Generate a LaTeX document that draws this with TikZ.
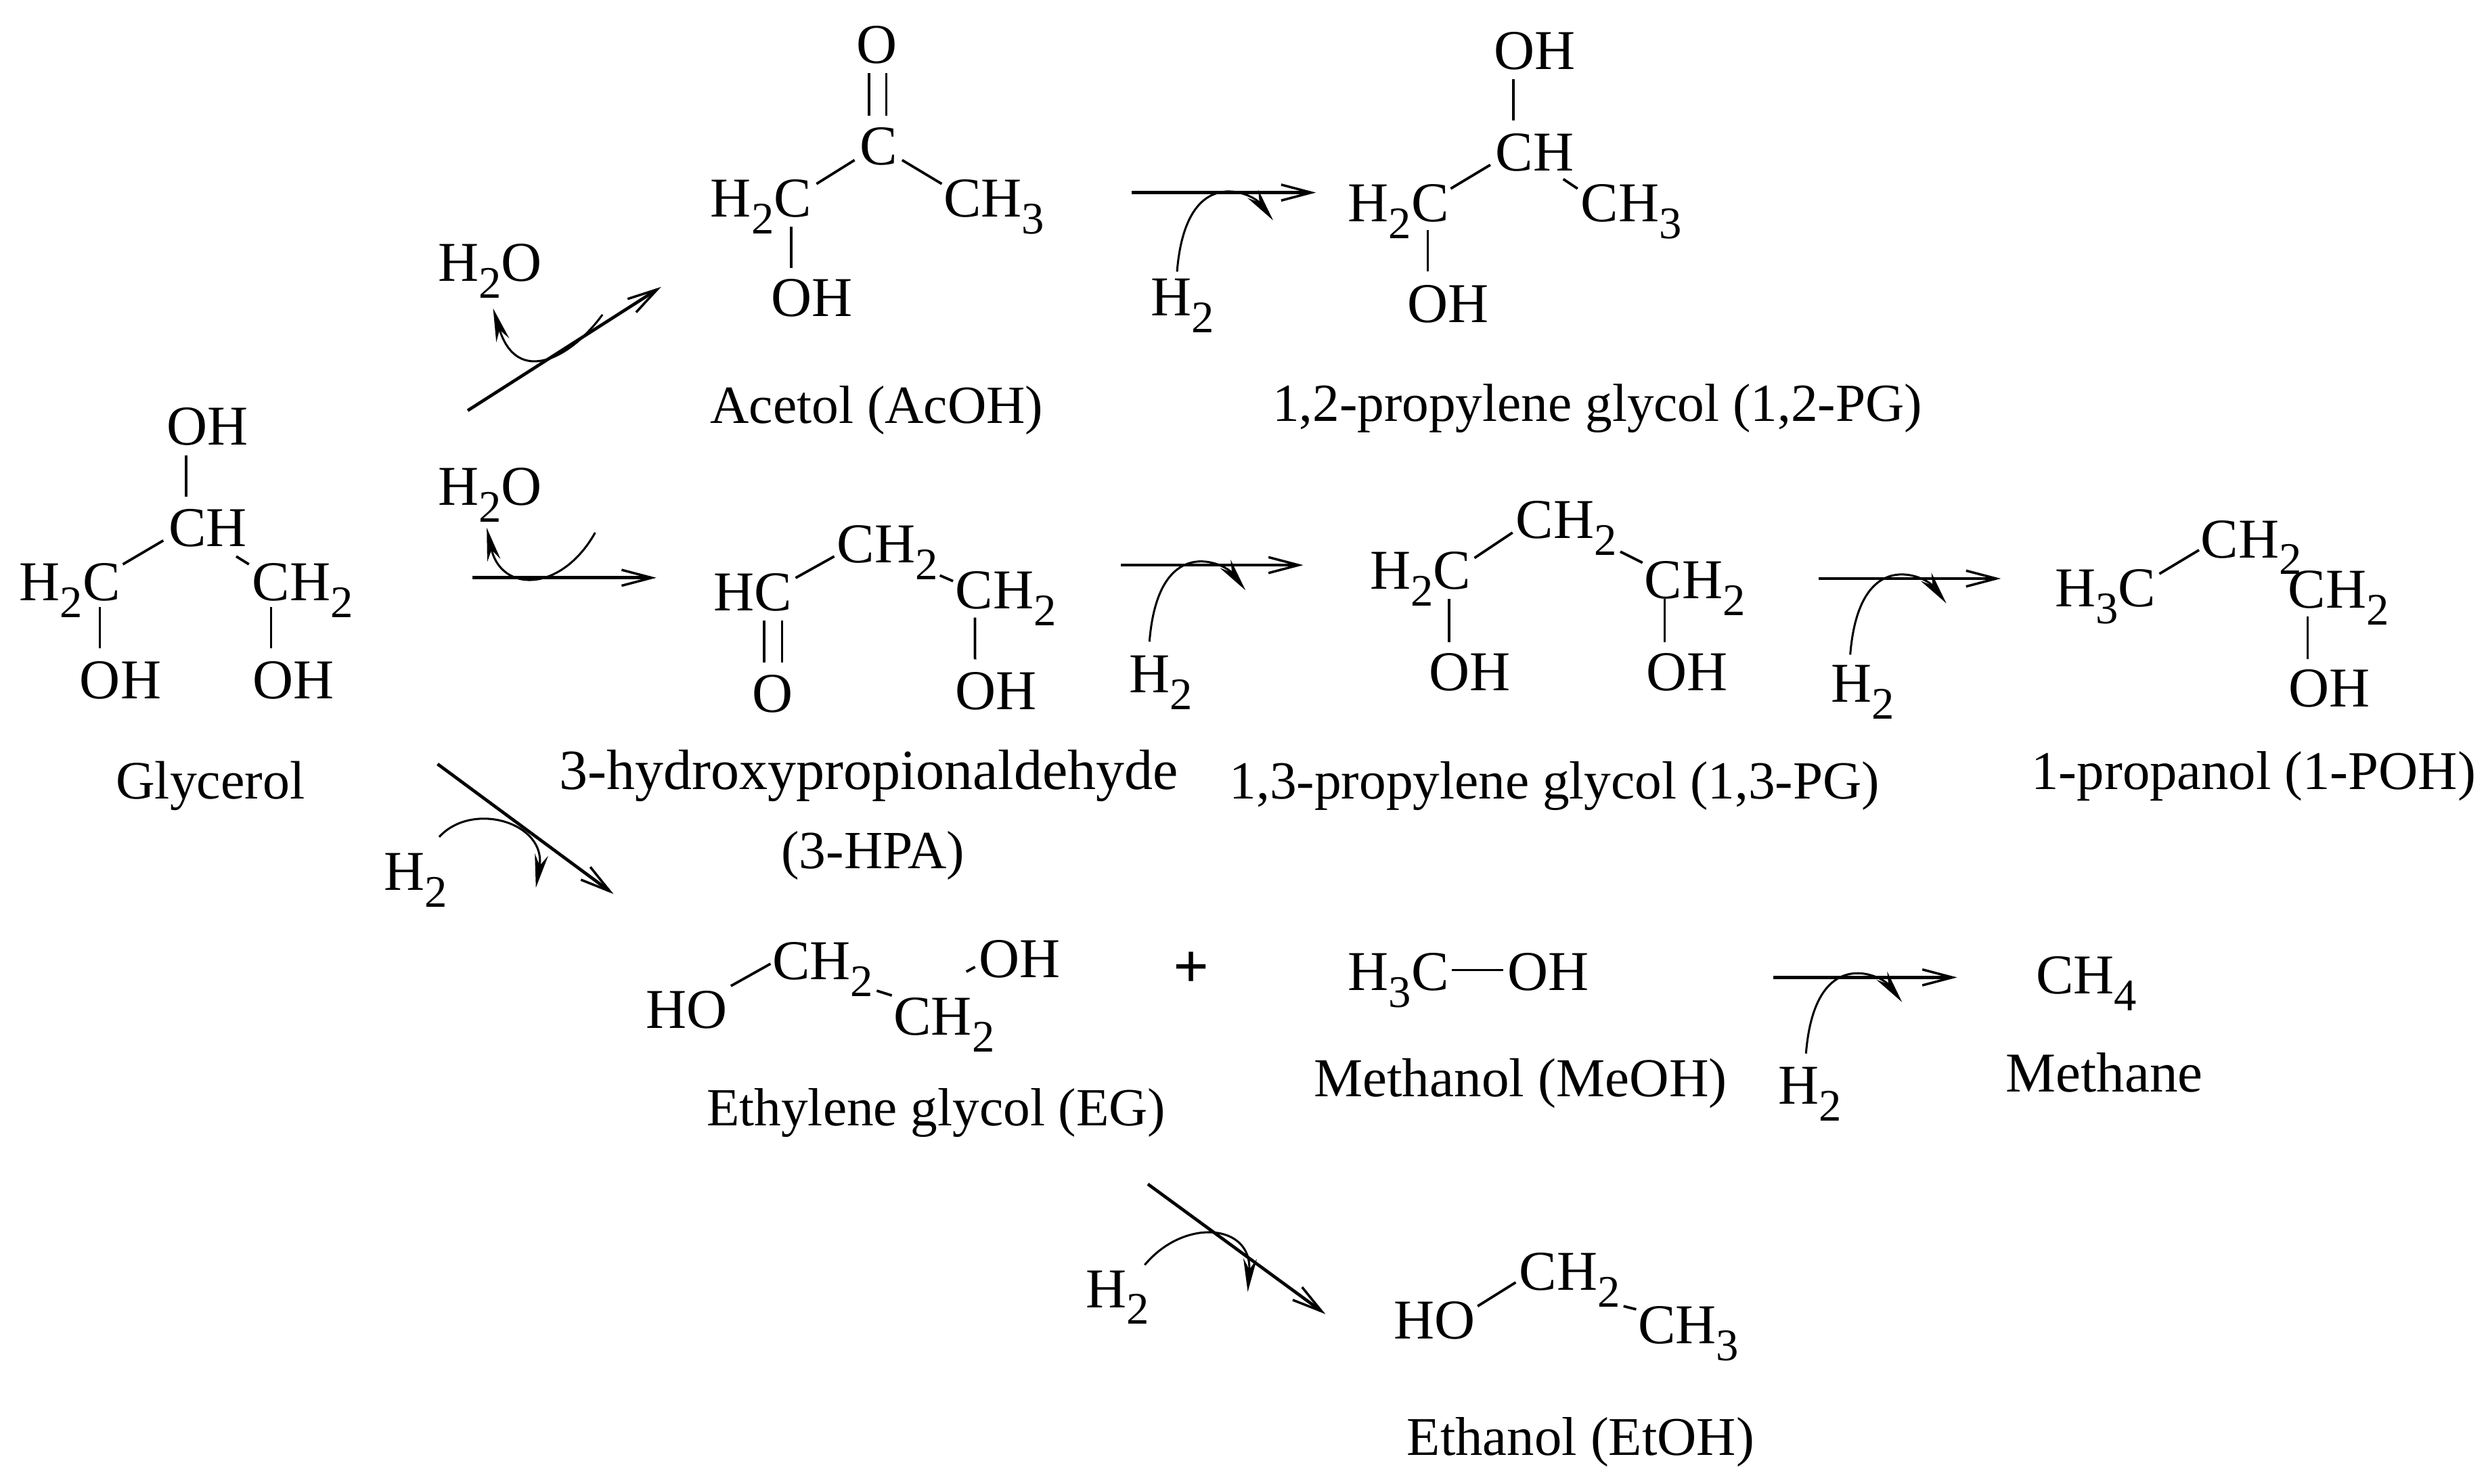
\documentclass[tikz,border=0pt]{standalone}
\usepackage{fontspec}
\setmainfont{Liberation Serif}
\usetikzlibrary{arrows.meta}
\newcommand{\ssb}[1]{\raisebox{-.3em}{\fontsize{8.1}{8.1}\selectfont #1}}
\newcommand{\bd}[4]{\draw[bond] ([shift={(#2)}]#1.center) -- ([shift={(#4)}]#3.center);}
\newcommand{\hcurve}[3]{\draw[crv] ([shift={(-3.6+#2,-16+#3)}]#1.center) .. controls ([shift={(2+#2,-85.4+#3)}]#1.center) and ([shift={(44+#2,-65.4+#3)}]#1.center) .. ([shift={(57+#2,-48.4+#3)}]#1.center);}
\tikzset{
  chem/.style={inner sep=0pt,text height=6.7pt,text depth=0pt,font=\fontsize{10.1}{12}\selectfont,text=black},
  lbl/.style={inner sep=0pt,text height=6.8pt,text depth=0pt,font=\fontsize{#1}{12}\selectfont,text=black},
  lbl/.default=9.8,
  bond/.style={line width=0.16mm,black},
  arr/.style={line width=0.2mm,black,-{Straight Barb[length=1.9mm,width=1mm,line width=0.15mm]}},
  crv/.style={line width=0.13mm,black,-{Stealth[length=2.1mm,width=0.85mm]}},
}
\begin{document}
\begin{tikzpicture}[x=0.1mm,y=-0.1mm]
\useasboundingbox (0,0) rectangle (1568,936.16);
% Glycerol
\node[chem] (gOH) at (131,269) {OH};
\node[chem] (gCH) at (131,333) {CH};
\node[chem] (gL) at (44,367) {H\ssb{2}C};
\node[chem] (gR) at (191,367) {CH\ssb{2}};
\node[chem] (gLO) at (76,429) {OH};
\node[chem] (gRO) at (185,429) {OH};
\node[lbl=9.7] (gName) at (132.7,492) {Glycerol};
\bd{gOH}{-13.5,18.5}{gCH}{-13.5,-19.5}
\bd{gCH}{-28,8}{gL}{33.5,-11}
\bd{gCH}{18,18}{gR}{-34,-11}
\bd{gL}{19,16}{gLO}{-13,-20}
\bd{gR}{-20,16}{gRO}{-14,-20}
% Acetol
\node[chem] (aO) at (553,28) {O};
\node[chem] (aC) at (554,92) {C};
\node[chem] (aL) at (480,125) {H\ssb{2}C};
\node[chem] (aR) at (627,125) {CH\ssb{3}};
\node[chem] (aOH) at (512,188) {OH};
\node[lbl=9.65] (aName) at (553,255) {Acetol (AcOH)};
\bd{aO}{-5,18}{aC}{-6,-19}
\bd{aO}{6,18}{aC}{5,-19}
\bd{aC}{-15,9}{aL}{35,-9}
\bd{aC}{15,9}{aR}{-33,-9}
\bd{aL}{19,18}{aOH}{-13,-19}
% 1,2-PG
\node[chem] (bOH) at (968,32) {OH};
\node[chem] (bCH) at (968,96) {CH};
\node[chem] (bL) at (882,128) {H\ssb{2}C};
\node[chem] (bR) at (1029,128) {CH\ssb{3}};
\node[chem] (bO) at (913.5,191.5) {OH};
\node[lbl=9.63] (bName) at (1007.5,254) {1,2-propylene glycol (1,2-PG)};
\bd{bOH}{-13.5,18}{bCH}{-13.5,-20}
\bd{bCH}{-28,8}{bL}{33,-9}
\bd{bCH}{18,17}{bR}{-34,-9}
\bd{bL}{18.5,17}{bO}{-13,-20.5}
% 3-HPA
\node[chem] (cHC) at (474.8,373.6) {HC};
\node[chem] (cO) at (487.4,437.5) {O};
\node[chem] (cM) at (559.8,343.4) {CH\ssb{2}};
\node[chem] (cR) at (634.4,372.2) {CH\ssb{2}};
\node[chem] (cOH) at (628,435.8) {OH};
\node[lbl=10.2] (cName) at (548,486) {3-hydroxypropionaldehyde};
\node[lbl=9.65] (cName2) at (550.6,536) {(3-HPA)};
\bd{cHC}{7.3,18}{cO}{-5.3,-19.5}
\bd{cHC}{18.5,18}{cO}{5.9,-19.5}
\bd{cHC}{27,-9}{cM}{-33.6,7.6}
\bd{cM}{33,19.6}{cR}{-33.3,-5.6}
\bd{cR}{-19.5,17.4}{cOH}{-13,-19.8}
% 1,3-PG
\node[chem] (dL) at (896,360) {H\ssb{2}C};
\node[chem] (dM) at (988,328) {CH\ssb{2}};
\node[chem] (dR) at (1069,366) {CH\ssb{2}};
\node[chem] (dLO) at (927,424) {OH};
\node[chem] (dRO) at (1064,424) {OH};
\node[lbl=9.63] (dName) at (980.5,492) {1,3-propylene glycol (1,3-PG)};
\bd{dL}{34,-8}{dM}{-34,8}
\bd{dM}{34,20}{dR}{-33,-11}
\bd{dL}{18,18}{dLO}{-13,-19}
\bd{dR}{-19,12}{dRO}{-14,-19}
% 1-propanol
\node[chem] (eL) at (1328,371) {H\ssb{3}C};
\node[chem] (eM) at (1420,340) {CH\ssb{2}};
\node[chem] (eR) at (1475,372) {CH\ssb{2}};
\node[chem] (eOH) at (1469,434) {OH};
\node[lbl] (eName) at (1421.5,486) {1-propanol (1-POH)};
\bd{eL}{34,-9}{eM}{-33,7}
\bd{eR}{-19.5,17}{eOH}{-13.5,-18.4}
% Ethylene glycol
\node[chem] (fHO) at (433,637) {HO};
\node[chem] (fA) at (519,606) {CH\ssb{2}};
\node[chem] (fB) at (595.5,641) {CH\ssb{2}};
\node[chem] (fOH) at (643,605) {OH};
\node[lbl=9.63] (fName) at (590.5,698) {Ethylene glycol (EG)};
\bd{fHO}{28,-15}{fA}{-33,2}
\bd{fA}{34,19}{fB}{-33,-13}
\bd{fB}{14,-28}{fOH}{-28,5}
\node[font=\bfseries\fontsize{11.3}{12}\selectfont,inner sep=0pt] (plus) at (751.5,612) {+};
% Methanol
\node[chem] (mL) at (882,613) {H\ssb{3}C};
\node[chem] (mO) at (976.6,613) {OH};
\node[lbl=9.85] (mName) at (959,680) {Methanol (MeOH)};
\bd{mL}{33.5,-1}{mO}{-28.5,-1}
% Methane
\node[chem] (mt) at (1316,615) {CH\ssb{4}};
\node[lbl=10.1] (mtName) at (1327.3,677) {Methane};
% Ethanol
\node[chem] (hHO) at (905,833) {HO};
\node[chem] (hM) at (990,802) {CH\ssb{2}};
\node[chem] (hR) at (1065,836) {CH\ssb{3}};
\node[lbl] (hName) at (997,906) {Ethanol (EtOH)};
\bd{hHO}{27,-9}{hM}{-34,7}
\bd{hM}{34,22}{hR}{-33,-10}
% Reagents
\node[chem] (w1) at (309,165.5) {H\ssb{2}O};
\node[chem] (w2) at (309,307) {H\ssb{2}O};
\node[chem] (h1) at (746,187.4) {H\ssb{2}};
\node[chem] (h2) at (732,425) {H\ssb{2}};
\node[chem] (h3) at (1175,431) {H\ssb{2}};
\node[chem] (h4) at (262,550) {H\ssb{2}};
\node[chem] (h5) at (1141.7,684.6) {H\ssb{2}};
\node[chem] (h6) at (705,813) {H\ssb{2}};
% Reaction arrows
\coordinate (r1s) at (295,259); \coordinate (r1e) at (417,181);
\coordinate (r2s) at (298,364.5); \coordinate (r2e) at (414,364.5);
\coordinate (r3s) at (276,482); \coordinate (r3e) at (387,564);
\coordinate (r4s) at (713.7,121.5); \coordinate (r4e) at (830,121.5);
\coordinate (r5s) at (707,356.5); \coordinate (r5e) at (822,356.5);
\coordinate (r6s) at (1147,365); \coordinate (r6e) at (1262,365);
\coordinate (r7s) at (1118.4,616.6); \coordinate (r7e) at (1234.4,616.6);
\coordinate (r8s) at (724,747); \coordinate (r8e) at (836,829);
\foreach \k in {1,...,8} {\draw[arr] (r\k s) -- (r\k e);}
% Curved arrows
\draw[crv] ([shift={(71,33)}]w1.center) .. controls (360,226) and (326,244) .. ([shift={(2,29)}]w1.center);
\draw[crv] ([shift={(66.4,29)}]w2.center) .. controls (354,374) and (316,374) .. ([shift={(-2,26)}]w2.center);
\hcurve{h1}{0}{0}
\hcurve{h2}{-3.4}{-4.2}
\hcurve{h3}{-4.4}{-2}
\hcurve{h5}{1}{-4}
\draw[crv] ([shift={(15,-22)}]h4.center) .. controls (298,505) and (345,519) .. (338,560);
\draw[crv] ([shift={(17,-15)}]h6.center) .. controls (747,768) and (790,772) .. (787,815);
\end{tikzpicture}
\end{document}
